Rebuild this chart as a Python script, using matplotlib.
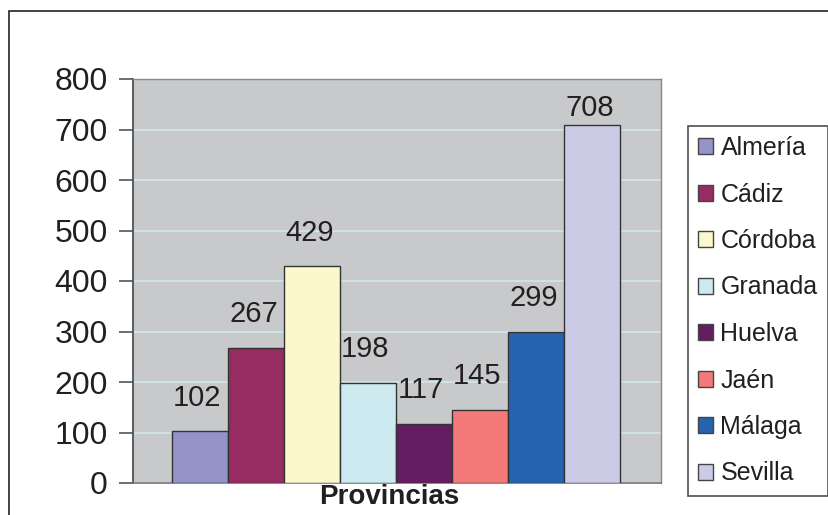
import matplotlib.pyplot as plt
from matplotlib.patches import Rectangle

provincias = ['Almería', 'Cádiz', 'Córdoba', 'Granada', 'Huelva', 'Jaén', 'Málaga', 'Sevilla']
valores = [102, 267, 429, 198, 117, 145, 299, 708]
colores = ['#9494c8', '#962c62', '#faf8cc', '#cdeaf0', '#651d62', '#f47a7a', '#2563b0', '#cccbe6']
yticks = [0, 100, 200, 300, 400, 500, 600, 700, 800]

plt.rcParams['font.family'] = ['Liberation Sans', 'DejaVu Sans']

fig = plt.figure(figsize=(8.29, 5.15), dpi=100)
fig.patches.append(Rectangle((9 / 829, -0.1), 1.0, 1.1 - 11 / 515, transform=fig.transFigure,
                             fill=False, edgecolor='#222222', linewidth=1.2))
ax = fig.add_axes([133 / 829, 1 - 483 / 515, 528 / 829, 404 / 515])
ax.set_facecolor('#c8c9cb')

x = list(range(len(valores)))
bars = ax.bar(x, valores, width=1.0, color=colores, edgecolor='#333333', linewidth=1, zorder=3)

for xi, v in zip(x, valores):
    ax.text(xi - 0.05, min(v + 67, 742), str(v), ha='center', va='center', fontsize=21,
            color='#231f20', zorder=4)

ax.set_xlim(-1.2, 8.23)
ax.set_ylim(0, 800)
ax.set_yticks(yticks)
ax.tick_params(axis='y', labelsize=23, length=10, width=1.2, color='#555555', labelcolor='#231f20', pad=8)
ax.set_xticks([])
ax.grid(axis='y', color='#cfe6ec', linewidth=1.2, zorder=0)
ax.set_axisbelow(True)
for s in ['top', 'right']:
    ax.spines[s].set_color('#888888')
    ax.spines[s].set_linewidth(1)
ax.spines['left'].set_color('#444444')
ax.spines['left'].set_linewidth(1.2)
ax.spines['bottom'].set_color('#777777')
ax.spines['bottom'].set_linewidth(1.2)

ax.set_xlabel('Provincias', fontsize=20, fontweight='bold', color='#231f20')
ax.xaxis.set_label_coords(0.485, -0.003)

handles = [Rectangle((0, 0), 1, 1, facecolor=c, edgecolor='#444444', linewidth=1) for c in colores]
leg = fig.legend(handles, provincias, loc='upper left', bbox_to_anchor=(688 / 829, 1 - 126 / 515),
                 fontsize=18, frameon=True, fancybox=False, edgecolor='#222222',
                 handlelength=0.6, handleheight=0.6, handletextpad=0.3,
                 labelspacing=0.9, borderpad=0.4, borderaxespad=0)
leg.get_frame().set_linewidth(1.2)
for t in leg.get_texts():
    t.set_color('#231f20')

fig.savefig('out.png', dpi=100)
